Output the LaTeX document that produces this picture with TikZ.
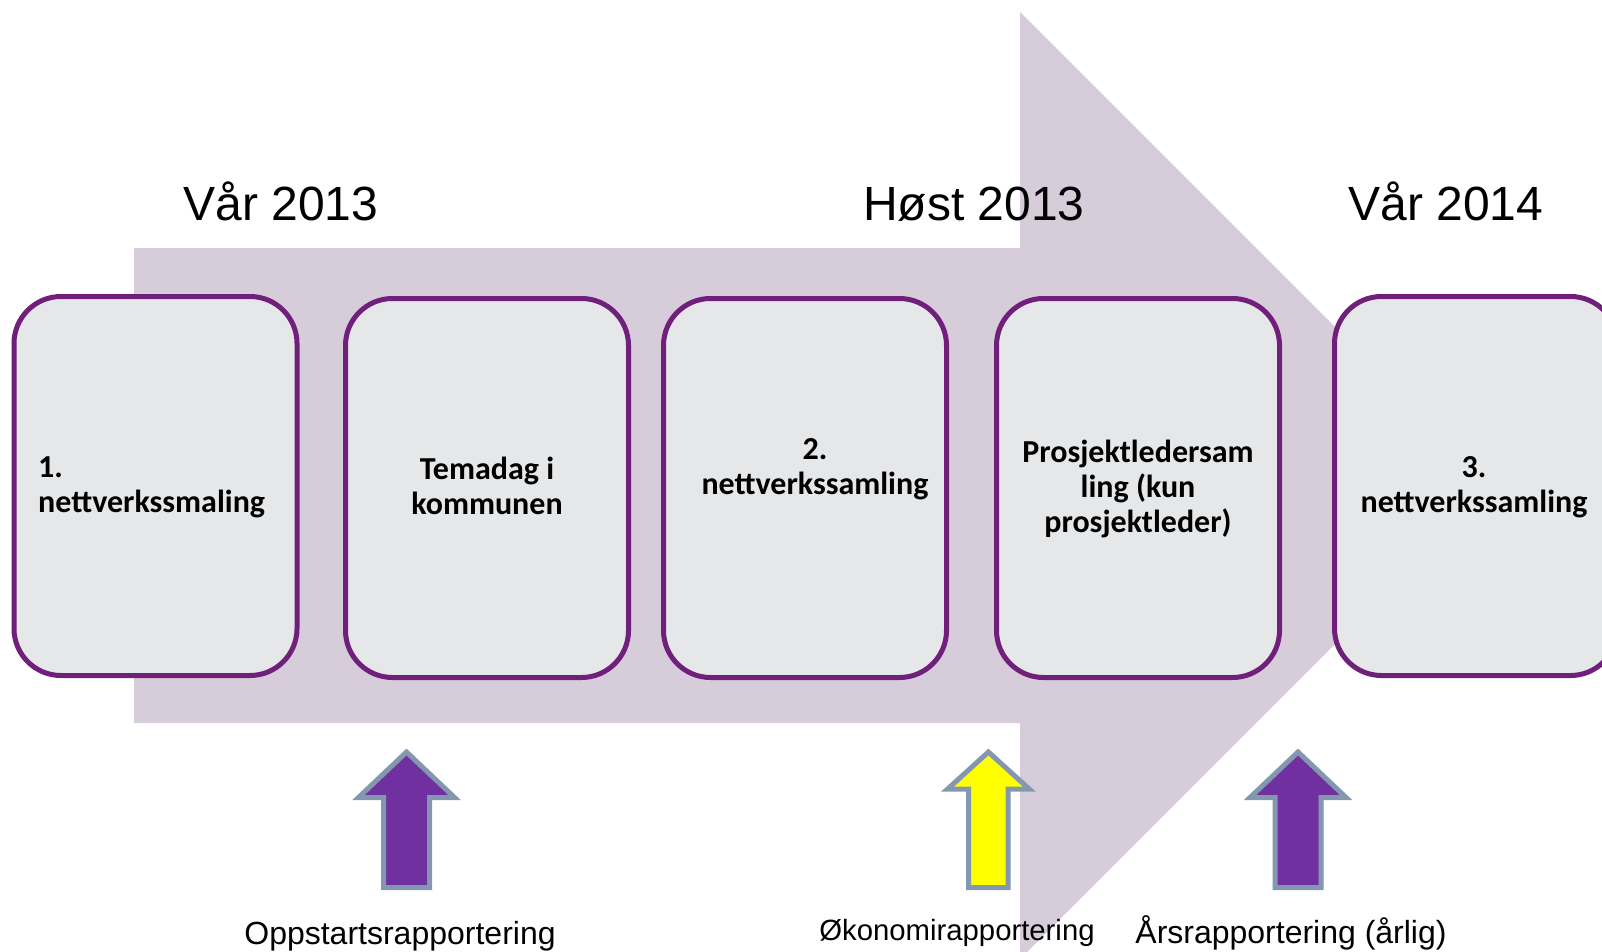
\documentclass[tikz,border=0pt]{standalone}
\usepackage{fontspec}
\setmainfont{Liberation Sans}
\newfontfamily\carlito{Carlito}
\definecolor{bigarrowcol}{RGB}{214,204,218}
\definecolor{boxfill}{RGB}{230,231,233}
\definecolor{boxline}{RGB}{112,32,122}
\definecolor{arrline}{RGB}{132,151,176}
\definecolor{arrpurple}{RGB}{112,48,160}
\definecolor{arryellow}{RGB}{255,255,0}
\newcommand\myuparrow[7]{%
  \draw[uparr, fill=#7] (#1,#2) -- (#1+#3,#4) -- (#1+#5,#4) -- (#1+#5,#6)
    -- (#1-#5,#6) -- (#1-#5,#4) -- (#1-#3,#4) -- cycle;}
\tikzset{
  box/.style={draw=boxline, fill=boxfill, line width=5pt, rounded corners=47pt,
    minimum width=283pt, minimum height=379pt, inner sep=0pt},
  boxtext/.style={inner sep=0pt, align=center, font=\carlito\bfseries\fontsize{32pt}{35pt}\selectfont},
  year/.style={inner sep=0pt, anchor=base, font=\fontsize{48pt}{56pt}\selectfont},
  bottomlabel/.style={inner sep=0pt, anchor=base, font=\fontsize{32pt}{38pt}\selectfont},
  uparr/.style={draw=arrline, line width=5pt, line join=miter},
}
\begin{document}
\begin{tikzpicture}[x=1pt,y=-1pt]
\useasboundingbox (0,0) rectangle (1602,952);
\clip (0,0) rectangle (1602,952);
% big background arrow
\fill[bigarrowcol] (134,248) -- (1020,248) -- (1020,12) -- (1493.5,485.5)
  -- (1020,959) -- (1020,723) -- (134,723) -- cycle;
% year labels
\node[year] (y1) at (281,220) {Vår 2013};
\node[year] (y2) at (974,220) {Høst 2013};
\node[year] (y3) at (1446,220) {Vår 2014};
% boxes
\node[box] (b1) at (155.5,486) {};
\node[box] (b2) at (487,488) {};
\node[box] (b3) at (805,488) {};
\node[box] (b4) at (1138,488) {};
\node[box] (b5) at (1476,486) {};
% box texts (base = baseline of last line)
\node[boxtext, anchor=base west, align=left] (t1) at (38,512) {1.\\nettverkssmaling};
\node[boxtext, anchor=base] (t2) at (487,514) {Temadag i\\kommunen};
\node[boxtext, anchor=base] (t3) at (815,494) {2.\\nettverkssamling};
\node[boxtext, anchor=base] (t4) at (1138,532) {Prosjektledersam\\ling (kun\\prosjektleder)};
\node[boxtext, anchor=base] (t5) at (1474,512) {3.\\nettverkssamling};
% small up arrows
\myuparrow{406.5}{752}{48}{797.5}{23}{887.5}{arrpurple}
\myuparrow{988.4}{752}{41}{789.2}{19.7}{887.5}{arryellow}
\myuparrow{1298}{752}{48}{797.5}{23}{887.5}{arrpurple}
% bottom labels
\node[bottomlabel] (l1) at (400,944) {Oppstartsrapportering};
\node[bottomlabel, font=\fontsize{29.3pt}{35pt}\selectfont] (l2) at (957,940) {Økonomirapportering};
\node[bottomlabel] (l3) at (1291,943) {Årsrapportering (årlig)};
\end{tikzpicture}
\end{document}
